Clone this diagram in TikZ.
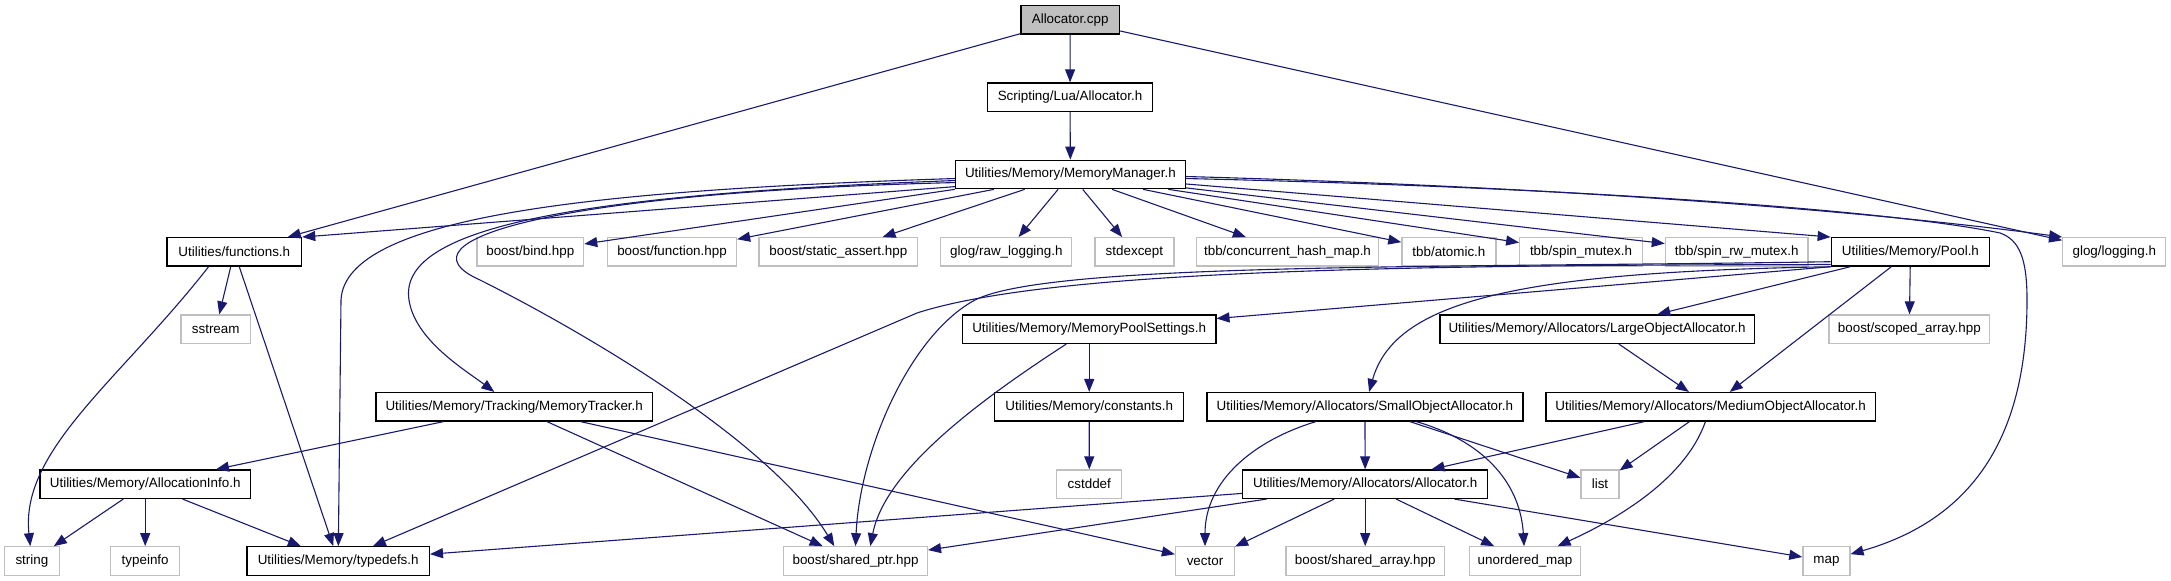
\documentclass[tikz,border=0pt]{standalone}
\usepackage{fontspec}
\setmainfont{Liberation Sans}
\usepackage{xcolor}
\usepackage{tikz}
\usetikzlibrary{arrows.meta}

\definecolor{depblue}{HTML}{191970}
\definecolor{sysgray}{HTML}{BFBFBF}

\begin{document}
\begin{tikzpicture}[
    x=0.5pt, y=-0.5pt,
    font=\fontsize{6.7}{8}\selectfont,
    file/.style={
        draw=black,
        line width=0.65pt,
        fill=white,
        rectangle,
        inner sep=1pt,
        minimum height=14.2pt
    },
    sysfile/.style={
        file,
        draw=sysgray
    },
    mainfile/.style={
        file,
        fill=sysgray
    },
    dep/.style={-{Triangle[length=6.5pt,width=5pt]}, draw=depblue, line width=0.55pt}
]
\useasboundingbox (0,0) rectangle (2171,581);

% Top: the source file and its direct headers
\node[mainfile, minimum width=49.35pt] (cpp) at (1070.2,19.9) {Allocator.cpp};
\node[file, minimum width=82.3pt] (luaalloc) at (1070,97.2) {Scripting/Lua/Allocator.h};
\node[file, minimum width=114.85pt] (memmgr) at (1070.4,174.5) {Utilities/Memory/MemoryManager.h};

% Row of headers included by the memory manager
\node[file, minimum width=67.3pt] (functions) at (234.3,251.9) {Utilities/functions.h};
\node[sysfile, minimum width=53.3pt] (bindhpp) at (530.3,251.9) {boost/bind.hpp};
\node[sysfile, minimum width=64.5pt] (functionhpp) at (672,251.9) {boost/function.hpp};
\node[sysfile, minimum width=79.3pt] (staticassert) at (838.3,251.9) {boost/static\_assert.hpp};
\node[sysfile, minimum width=65.5pt] (rawlogging) at (1006.3,251.9) {glog/raw\_logging.h};
\node[sysfile, minimum width=39.5pt] (stdexcept) at (1134.4,251.9) {stdexcept};
\node[sysfile, minimum width=91pt] (hashmap) at (1287.5,251.9) {tbb/concurrent\_hash\_map.h};
\node[sysfile, minimum width=47pt] (atomic) at (1448.9,251.9) {tbb/atomic.h};
\node[sysfile, minimum width=61.25pt] (spinmutex) at (1581,251.9) {tbb/spin\_mutex.h};
\node[sysfile, minimum width=71.3pt] (spinrwmutex) at (1736.7,251.9) {tbb/spin\_rw\_mutex.h};
\node[file, minimum width=79.15pt] (pool) at (1910.4,251.9) {Utilities/Memory/Pool.h};
\node[sysfile, minimum width=51.5pt] (logging) at (2114.3,251.9) {glog/logging.h};

% Pool level
\node[sysfile, minimum width=34.7pt] (sstream) at (215.7,329.2) {sstream};
\node[file, minimum width=126.65pt] (poolsettings) at (1089.2,329.2) {Utilities/Memory/MemoryPoolSettings.h};
\node[file, minimum width=157.2pt] (largealloc) at (1597.1,329.2) {Utilities/Memory/Allocators/LargeObjectAllocator.h};
\node[sysfile, minimum width=80.25pt] (scopedarray) at (1909.3,329.2) {boost/scoped\_array.hpp};

% Tracker and allocators
\node[file, minimum width=138.2pt] (tracker) at (514.2,406.8) {Utilities/Memory/Tracking/MemoryTracker.h};
\node[file, minimum width=94.5pt] (constants) at (1089.2,406.8) {Utilities/Memory/constants.h};
\node[file, minimum width=157.95pt] (smallalloc) at (1364.9,406.8) {Utilities/Memory/Allocators/SmallObjectAllocator.h};
\node[file, minimum width=164.7pt] (mediumalloc) at (1710.6,406.8) {Utilities/Memory/Allocators/MediumObjectAllocator.h};

\node[file, minimum width=105.2pt] (allocinfo) at (145.2,484.2) {Utilities/Memory/AllocationInfo.h};
\node[sysfile, minimum width=32.5pt] (cstddef) at (1089.3,484.2) {cstddef};
\node[file, minimum width=122.5pt] (allocator) at (1365.2,484.2) {Utilities/Memory/Allocators/Allocator.h};
\node[sysfile, minimum width=19pt] (list) at (1600,484.2) {list};

% Bottom row
\node[sysfile, minimum width=27.7pt] (string) at (31.9,561) {string};
\node[sysfile, minimum width=34.4pt] (typeinfo) at (145.2,561) {typeinfo};
\node[file, minimum width=91.15pt] (typedefs) at (338.2,561) {Utilities/Memory/typedefs.h};
\node[sysfile, minimum width=71.9pt] (sharedptr) at (855.5,561) {boost/shared\_ptr.hpp};
\node[sysfile, minimum width=29.5pt] (vector) at (1205,561) {vector};
\node[sysfile, minimum width=79.15pt] (sharedarray) at (1365.2,561) {boost/shared\_array.hpp};
\node[sysfile, minimum width=55.3pt] (unorderedmap) at (1525,561) {unordered\_map};
\node[sysfile, minimum width=23.5pt] (map) at (1826.4,561) {map};

% Allocator.cpp
\draw[dep] (cpp) -- (luaalloc);
\draw[dep] (cpp) -- (functions);
\draw[dep] (cpp) -- (logging);
\draw[dep] (luaalloc) -- (memmgr);

% MemoryManager.h
\draw[dep] (memmgr.186) -- (functions.north east);
\draw[dep] (memmgr.182) .. controls (600,190) and (345,215) .. (341,300) -- (typedefs);
\draw[dep] (memmgr.183) .. controls (560,195) and (398,230) .. (409,300) .. controls (415,340) and (465,370) .. (tracker);
\draw[dep] (memmgr.184) .. controls (560,192) and (390,240) .. (480,280) .. controls (580,330) and (770,440) .. (sharedptr.145);
\draw[dep] (memmgr.south west) -- (bindhpp);
\draw[dep] (memmgr.-169) -- (functionhpp);
\draw[dep] (memmgr.-162) -- (staticassert);
\draw[dep] (memmgr) -- (rawlogging);
\draw[dep] (memmgr) -- (stdexcept);
\draw[dep] (memmgr) -- (hashmap);
\draw[dep] (memmgr) -- (atomic);
\draw[dep] (memmgr) -- (spinmutex);
\draw[dep] (memmgr) -- (spinrwmutex);
\draw[dep] (memmgr) -- (pool.north west);
\draw[dep] (memmgr.-1) .. controls (1600,188) and (1900,215) .. (logging.north west);
\draw[dep] (memmgr.-2) .. controls (1600,188) and (1900,212) .. (2000,233) .. controls (2020,240) and (2027,260) .. (2027,300) .. controls (2027,440) and (1970,520) .. (map);

% functions.h
\draw[dep] (functions.-150) .. controls (120,380) and (20,450) .. (string);
\draw[dep] (functions) -- (sstream);
\draw[dep] (functions) -- (typedefs);

% MemoryTracker.h and AllocationInfo.h
\draw[dep] (tracker) -- (allocinfo);
\draw[dep] (tracker) -- (sharedptr);
\draw[dep] (tracker) -- (vector);
\draw[dep] (allocinfo) -- (string);
\draw[dep] (allocinfo) -- (typeinfo);
\draw[dep] (allocinfo) -- (typedefs);

% Pool.h
\draw[dep] (pool.south west) -- (poolsettings);
\draw[dep] (pool.189) .. controls (1400,265) and (1050,270) .. (917,313) -- (typedefs);
\draw[dep] (pool.187) .. controls (1450,268) and (1050,262) .. (975,300) .. controls (910,335) and (860,450) .. (sharedptr.north);
\draw[dep] (pool.south west) .. controls (1520,272) and (1395,300) .. (smallalloc);
\draw[dep] (pool) -- (largealloc);
\draw[dep] (pool) -- (mediumalloc);
\draw[dep] (pool) -- (scopedarray);

% settings and constants
\draw[dep] (poolsettings) -- (constants);
\draw[dep] (poolsettings) .. controls (980,400) and (885,470) .. (sharedptr.45);
\draw[dep] (constants) -- (cstddef);

% allocators
\draw[dep] (largealloc) -- (mediumalloc);
\draw[dep] (smallalloc) -- (allocator);
\draw[dep] (smallalloc) .. controls (1255,440) and (1205,480) .. (vector);
\draw[dep] (smallalloc) -- (list);
\draw[dep] (smallalloc) .. controls (1480,440) and (1520,480) .. (unorderedmap);
\draw[dep] (mediumalloc) -- (allocator);
\draw[dep] (mediumalloc) -- (list);
\draw[dep] (mediumalloc) .. controls (1685,480) and (1615,520) .. (unorderedmap);

% Allocator.h
\draw[dep] (allocator) -- (typedefs);
\draw[dep] (allocator) -- (sharedptr);
\draw[dep] (allocator) -- (vector);
\draw[dep] (allocator) -- (sharedarray);
\draw[dep] (allocator) -- (unorderedmap);
\draw[dep] (allocator) -- (map);

\end{tikzpicture}
\end{document}
